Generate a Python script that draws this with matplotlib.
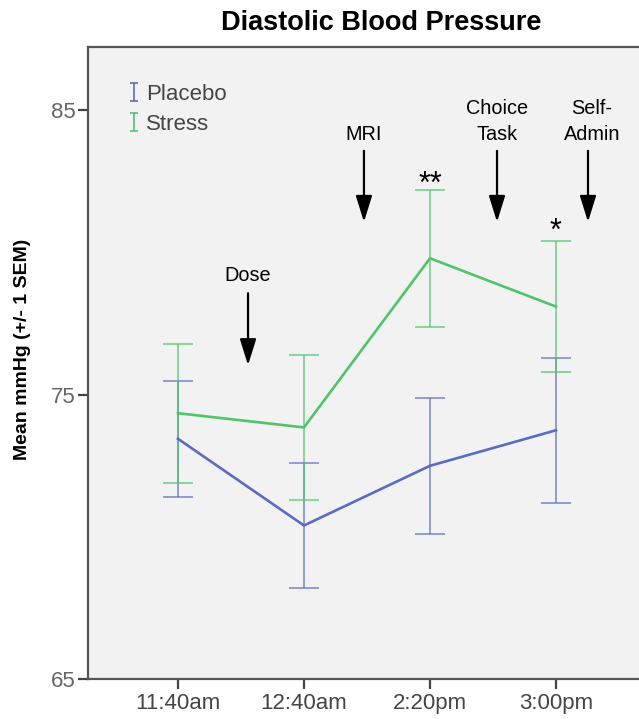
import matplotlib
matplotlib.use("Agg")
import matplotlib.pyplot as plt
from matplotlib.path import Path
from matplotlib.lines import Line2D

# Data
times = ["11:40am", "12:40am", "2:20pm", "3:00pm"]
placebo_mean = [73.45, 70.4, 72.5, 73.75]
placebo_sem = [2.05, 2.2, 2.4, 2.55]
stress_mean = [74.35, 73.85, 79.8, 78.1]
stress_sem = [2.45, 2.55, 2.4, 2.3]

# Event markers (label, x position between time points)
events = ["Dose", "MRI", "Choice\nTask", "Self-\nAdmin"]
event_x = [0.556, 1.476, 2.532, 3.254]
stars = ["**", "*"]
star_x = [2.0, 3.0]

blue = "#5b6cc0"
green = "#50c46c"

plt.rcParams["font.family"] = ["Liberation Sans", "DejaVu Sans"]

fig = plt.figure(figsize=(6.39, 7.19), dpi=100)
# axes runs past the right edge of the figure, like the cropped original
ax = fig.add_axes([88 / 639, 40 / 719, 570 / 639, 632.5 / 719])
ax.set_facecolor("#f2f2f2")

x = list(range(len(times)))

# Error bars first, then the mean lines on top
ax.errorbar(x, placebo_mean, yerr=placebo_sem, fmt="none", ecolor=blue,
            elinewidth=1.4, capsize=11, capthick=1.4, alpha=0.65)
ax.errorbar(x, stress_mean, yerr=stress_sem, fmt="none", ecolor=green,
            elinewidth=1.4, capsize=11, capthick=1.4, alpha=0.65)
ax.plot(x, placebo_mean, color=blue, lw=1.9)
ax.plot(x, stress_mean, color=green, lw=1.9)

ax.set_xlim(-0.714, (88 + 570 - 178) / 126)
ax.set_ylim(65, 87.25)
ax.set_xticks(x)
ax.set_xticklabels(times)
ax.set_yticks([65, 75, 85])

for side in ["left", "bottom", "top"]:
    ax.spines[side].set_color("#555555")
    ax.spines[side].set_linewidth(1.6)
ax.spines["right"].set_visible(False)
ax.tick_params(colors="#444444", labelsize=16, length=7, width=1.6, pad=2)
ax.tick_params(axis="x", labelcolor="#444444", pad=3)
ax.tick_params(axis="y", labelcolor="#666666")

# Arrows and event labels (label baseline of last line sits just above the arrow)
for lab, ex in zip(events, event_x):
    if lab == "Dose":
        top, tip, ty = 78.57, 76.04, 79.0
    else:
        top, tip, ty = 83.58, 81.08, 83.95
    ax.annotate("", xy=(ex, tip), xytext=(ex, top),
                arrowprops=dict(arrowstyle="-|>,head_length=0.8,head_width=0.25",
                                lw=1.6, color="black", mutation_scale=20,
                                shrinkA=0, shrinkB=0))
    ax.text(ex + (0.03 if "Self" in lab else 0), ty, lab, ha="center", va="baseline",
            fontsize=14.3, linespacing=1.5, multialignment="center")

# Significance stars
ax.text(star_x[0], 82.1, stars[0], ha="center", va="baseline", fontsize=22)
ax.text(star_x[1], 80.45, stars[1], ha="center", va="baseline", fontsize=22)

# Legend with error-bar style markers
ibar = Path([(-0.45, 1), (0.45, 1), (0, 1), (0, -1), (-0.45, -1), (0.45, -1)],
            [Path.MOVETO, Path.LINETO, Path.MOVETO, Path.LINETO, Path.MOVETO, Path.LINETO])
handles = [Line2D([], [], ls="none", marker=ibar, markersize=13, markerfacecolor="none",
                  markeredgecolor=blue, markeredgewidth=1.2),
           Line2D([], [], ls="none", marker=ibar, markersize=13, markerfacecolor="none",
                  markeredgecolor=green, markeredgewidth=1.2)]
ax.legend(handles, ["Placebo", "Stress"], loc="upper left", bbox_to_anchor=(0.03, 0.972),
          frameon=False, fontsize=16, labelcolor="#444444", handlelength=0.8,
          handletextpad=0.15, labelspacing=0.4)

fig.text(23 / 639, 1 - 349 / 719, "Mean mmHg (+/- 1 SEM)", rotation=90,
         ha="center", va="center", fontsize=14, fontweight="bold")
fig.text(381 / 639, 1 - 23 / 719, "Diastolic Blood Pressure", ha="center", va="center",
         fontsize=19.5, fontweight="bold")

fig.savefig("out.png", dpi=100)
